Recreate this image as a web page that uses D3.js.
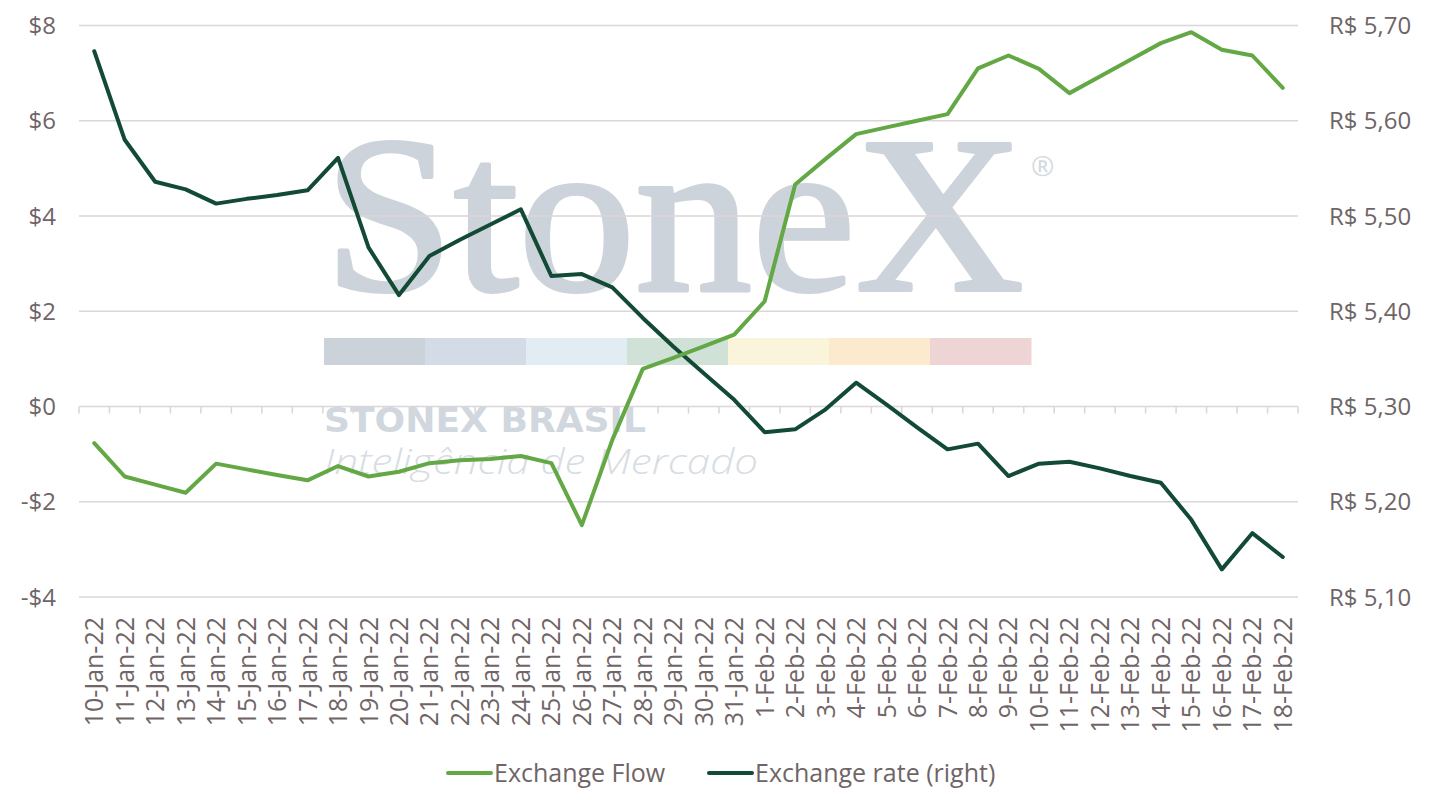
<!DOCTYPE html>
<html lang="en">
<head>
<meta charset="UTF-8">
<title>Exchange Flow vs Exchange rate</title>
<script src="https://d3js.org/d3.v7.min.js"></script>
<style>
  html, body { margin: 0; padding: 0; background: #fff; }
  text { font-family: "Open Sans", sans-serif; }
</style>
</head>
<body>
<svg id="chart" width="1438" height="808"></svg>
<script>
// data
const dates = [
  "10-Jan-22","11-Jan-22","12-Jan-22","13-Jan-22","14-Jan-22","15-Jan-22","16-Jan-22","17-Jan-22",
  "18-Jan-22","19-Jan-22","20-Jan-22","21-Jan-22","22-Jan-22","23-Jan-22","24-Jan-22","25-Jan-22",
  "26-Jan-22","27-Jan-22","28-Jan-22","29-Jan-22","30-Jan-22","31-Jan-22",
  "1-Feb-22","2-Feb-22","3-Feb-22","4-Feb-22","5-Feb-22","6-Feb-22","7-Feb-22","8-Feb-22","9-Feb-22",
  "10-Feb-22","11-Feb-22","12-Feb-22","13-Feb-22","14-Feb-22","15-Feb-22","16-Feb-22","17-Feb-22","18-Feb-22"
];
const exchangeFlow = [
  -0.77,-1.47,-1.64,-1.81,-1.20,-1.32,-1.44,-1.55,-1.25,-1.47,-1.37,-1.19,-1.13,-1.10,-1.04,-1.19,
  -2.49,-0.70,0.79,1.02,1.26,1.51,
  2.21,4.66,5.20,5.72,5.86,6.00,6.14,7.10,7.37,7.09,6.58,6.93,7.28,7.63,7.86,7.49,7.37,6.69
];
const exchangeRate = [
  5.673,5.580,5.536,5.528,5.513,5.518,5.522,5.527,5.561,5.467,5.417,5.458,5.475,5.491,5.507,5.437,
  5.439,5.425,5.393,5.363,5.335,5.307,
  5.273,5.276,5.297,5.325,5.302,5.278,5.255,5.261,5.227,5.240,5.242,5.235,5.227,5.220,5.181,5.129,5.167,5.142
];
const leftTicks = [-4, -2, 0, 2, 4, 6, 8];
const rightTicks = [5.1, 5.2, 5.3, 5.4, 5.5, 5.6, 5.7];
const seriesNames = ["Exchange Flow", "Exchange rate (right)"];
const logoBand = ["#cbd2d9","#d3dbe6","#e2ecf3","#d0e2d8","#faf4db","#fbeacd","#efd4d5"];

const svg = d3.select("#chart");
const plotL = 79, plotR = 1298, plotT = 25.5, plotB = 597;
const txt = "#6f6566", grid = "#dbd6d7";
const green = "#63a845", dark = "#124a35";

const x = d3.scaleBand().domain(dates).range([plotL, plotR]);
const yL = d3.scaleLinear().domain([-4, 8]).range([plotB, plotT]);
const yR = d3.scaleLinear().domain([5.1, 5.7]).range([plotB, plotT]);
const cx = d => x(d) + x.bandwidth() / 2;

// watermark (logo behind the chart)
const wm = svg.append("g");
wm.append("text").attr("x", 324).attr("y", 290)
  .attr("font-size", 222)
  .attr("textLength", 700).attr("lengthAdjust", "spacingAndGlyphs")
  .attr("fill", "#ccd3da").attr("stroke", "#ccd3da").attr("stroke-width", 4).attr("stroke-linejoin", "round")
  .style("font-family", "'Liberation Serif', serif").text("StoneX");
wm.append("text").attr("x", 1031).attr("y", 176).attr("font-size", 28)
  .attr("fill", "#d3dae0").text("®");
const bandX = d3.scaleBand().domain(d3.range(logoBand.length)).range([324, 1031]);
wm.selectAll("rect").data(logoBand).join("rect")
  .attr("x", (d, i) => bandX(i)).attr("y", 338).attr("width", bandX.bandwidth() + 0.5).attr("height", 27)
  .attr("fill", d => d);
wm.append("text").attr("x", 324).attr("y", 432).attr("font-size", 33).attr("font-weight", 700)
  .attr("textLength", 322).attr("lengthAdjust", "spacingAndGlyphs")
  .attr("fill", "#d0d7de").style("font-family", "'DejaVu Sans', sans-serif").text("STONEX BRASIL");
wm.append("text").attr("x", 324).attr("y", 474).attr("font-size", 34).attr("font-style", "italic")
  .attr("font-weight", 300).attr("textLength", 434).attr("lengthAdjust", "spacingAndGlyphs")
  .attr("fill", "#d7dde3").text("Inteligência de Mercado");

// gridlines
svg.append("g").selectAll("line").data(leftTicks).join("line")
  .attr("x1", plotL).attr("x2", plotR)
  .attr("y1", d => yL(d)).attr("y2", d => yL(d))
  .attr("stroke", grid).attr("stroke-width", 1.5);

// category ticks on the zero line
svg.append("g").selectAll("line").data(dates.concat([null])).join("line")
  .attr("x1", d => d === null ? plotR : x(d)).attr("x2", d => d === null ? plotR : x(d))
  .attr("y1", yL(0)).attr("y2", yL(0) + 7)
  .attr("stroke", grid).attr("stroke-width", 1.5);

// left axis labels
svg.append("g").selectAll("text").data(leftTicks).join("text")
  .attr("x", 56).attr("y", d => yL(d)).attr("dy", "0.36em")
  .attr("text-anchor", "end").attr("font-size", 24).attr("fill", txt)
  .text(d => (d < 0 ? "-$" : "$") + Math.abs(d));

// right axis labels
svg.append("g").selectAll("text").data(rightTicks).join("text")
  .attr("x", 1329).attr("y", d => yR(d)).attr("dy", "0.36em")
  .attr("font-size", 24).attr("fill", txt)
  .text(d => "R$ " + d.toFixed(2).replace(".", ","));

// x labels
svg.append("g").selectAll("text").data(dates).join("text")
  .attr("transform", d => `translate(${cx(d)},617) rotate(-90)`)
  .attr("dy", "0.36em").attr("text-anchor", "end")
  .attr("font-size", 25).attr("fill", txt).text(d => d);

// series
const lineL = d3.line().x((d, i) => cx(dates[i])).y(d => yL(d));
const lineR = d3.line().x((d, i) => cx(dates[i])).y(d => yR(d));
svg.append("path").datum(exchangeRate).attr("d", lineR)
  .attr("fill", "none").attr("stroke", dark).attr("stroke-width", 4).attr("stroke-linejoin", "round").attr("stroke-linecap", "round");
svg.append("path").datum(exchangeFlow).attr("d", lineL)
  .attr("fill", "none").attr("stroke", green).attr("stroke-width", 4).attr("stroke-linejoin", "round").attr("stroke-linecap", "round");

// legend
const legend = svg.append("g");
const legX = [448, 709];
const legCol = [green, dark];
seriesNames.forEach((name, i) => {
  legend.append("line").attr("x1", legX[i]).attr("x2", legX[i] + 43)
    .attr("y1", 773).attr("y2", 773).attr("stroke", legCol[i]).attr("stroke-width", 4).attr("stroke-linecap", "round");
  legend.append("text").attr("x", legX[i] + 46).attr("y", 773).attr("dy", "0.36em")
    .attr("font-size", 25).attr("fill", txt).text(name);
});
</script>
</body>
</html>
